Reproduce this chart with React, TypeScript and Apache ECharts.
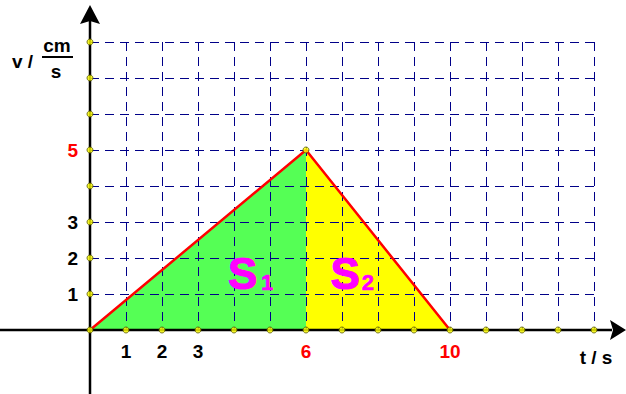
import React, { useEffect, useRef } from "react";
import * as echarts from "echarts";

// Data
const peakPoints: [number, number][] = [[0, 0], [6, 5], [10, 0]];
const riseSegment: [number, number][] = [[0, 0], [6, 5]];
const fallSegment: [number, number][] = [[6, 5], [10, 0]];
const xTickValues = [0, 1, 2, 3, 4, 5, 6, 7, 8, 9, 10, 11, 12, 13, 14];
const yTickValues = [1, 2, 3, 4, 5, 6, 7, 8];
const xTickLabels: Record<number, string> = { 1: "1", 2: "2", 3: "3", 6: "6", 10: "10" };
const yTickLabels: Record<number, string> = { 1: "1", 2: "2", 3: "3", 5: "5" };
const redXTicks = [6, 10];
const redYTicks = [5];
const areaNames = ["S", "S"];
const areaSubs = ["1", "2"];
// label anchor positions in data coordinates
const areaLabelX = [3.83, 6.68];
const areaSubX = [4.75, 7.55];

const FONT = "Liberation Sans";

export default function App() {
  const ref = useRef<HTMLDivElement>(null);
  useEffect(() => {
    if (!ref.current) return;
    const chart = echarts.init(ref.current, null, { renderer: "svg" });
    const dots: [number, number][] = [
      ...xTickValues.map((x) => [x, 0] as [number, number]),
      ...yTickValues.map((y) => [0, y] as [number, number]),
      peakPoints[1],
    ];
    const gridLine = {
      show: true,
      lineStyle: { color: "#000088", width: 1, type: [9, 6] as any },
    };
    chart.setOption({
      animation: false,
      backgroundColor: "#ffffff",
      grid: { left: 90, right: 32, top: 42, bottom: 64, containLabel: false },
      xAxis: {
        type: "value",
        min: 0,
        max: 14,
        interval: 1,
        z: 3,
        axisLine: { show: false },
        axisTick: { show: false },
        splitLine: gridLine,
        axisLabel: {
          margin: 12,
          fontFamily: FONT,
          fontWeight: "bold",
          fontSize: 19,
          formatter: (v: number) => xTickLabels[v] ?? "",
          color: (v: any) => (redXTicks.includes(Number(v)) ? "#ff0000" : "#000000"),
        },
      },
      yAxis: {
        type: "value",
        min: 0,
        max: 8,
        interval: 1,
        z: 3,
        axisLine: { show: false },
        axisTick: { show: false },
        splitLine: gridLine,
        axisLabel: {
          margin: 12,
          fontFamily: FONT,
          fontWeight: "bold",
          fontSize: 19,
          formatter: (v: number) => yTickLabels[v] ?? "",
          color: (v: any) => (redYTicks.includes(Number(v)) ? "#ff0000" : "#000000"),
        },
      },
      series: [
        {
          type: "line",
          data: riseSegment,
          z: 1,
          showSymbol: false,
          lineStyle: { width: 0 },
          areaStyle: { color: "#55ff55", opacity: 1 },
        },
        {
          type: "line",
          data: fallSegment,
          z: 1,
          showSymbol: false,
          lineStyle: { width: 0 },
          areaStyle: { color: "#ffff00", opacity: 1 },
        },
        {
          type: "line",
          data: peakPoints,
          z: 6,
          showSymbol: false,
          lineStyle: { color: "#ff0000", width: 2.5 },
        },
        {
          type: "scatter",
          data: dots,
          z: 10,
          symbolSize: 6,
          itemStyle: { color: "#ffff00", borderColor: "#555500", borderWidth: 1 },
        },
      ],
    });
    const O = chart.convertToPixel({ gridIndex: 0 }, [0, 0]) as number[];
    const ox = O[0];
    const oy = O[1];
    const px = (x: number) => (chart.convertToPixel({ gridIndex: 0 }, [x, 0]) as number[])[0];
    const txt = (
      x: number,
      y: number,
      text: string,
      size: number,
      color: string,
      align = "left",
      strokeW = 0
    ) => ({
      type: "text",
      x,
      y,
      z: 20,
      style: {
        text,
        fill: color,
        stroke: strokeW ? color : undefined,
        lineWidth: strokeW,
        fontFamily: FONT,
        fontWeight: "bold",
        fontSize: size,
        align,
        verticalAlign: "middle",
      },
    });
    chart.setOption({
      graphic: [
        { type: "line", z: 8, shape: { x1: 0, y1: oy, x2: 612, y2: oy }, style: { stroke: "#000", lineWidth: 2.5 } },
        { type: "polygon", z: 8, shape: { points: [[626, oy], [610, oy - 10], [613, oy], [610, oy + 10]] }, style: { fill: "#000" } },
        { type: "line", z: 8, shape: { x1: ox, y1: 394, x2: ox, y2: 20 }, style: { stroke: "#000", lineWidth: 2.5 } },
        { type: "polygon", z: 8, shape: { points: [[ox, 5], [ox + 10, 24], [ox, 21], [ox - 10, 24]] }, style: { fill: "#000" } },
        txt(12, 61, "v /", 19, "#000"),
        txt(57, 45, "cm", 19, "#000", "center"),
        { type: "line", z: 8, shape: { x1: 42, y1: 57, x2: 73, y2: 57 }, style: { stroke: "#000", lineWidth: 2 } },
        txt(56, 71, "s", 19, "#000", "center"),
        txt(596, 357, "t / s", 19, "#000", "center"),
        txt(px(areaLabelX[0]), 273, areaNames[0], 44, "#ff00ff", "left", 1.2),
        txt(px(areaSubX[0]), 282, areaSubs[0], 22, "#ff00ff", "left", 0.6),
        txt(px(areaLabelX[1]), 273, areaNames[1], 44, "#ff00ff", "left", 1.2),
        txt(px(areaSubX[1]), 282, areaSubs[1], 22, "#ff00ff", "left", 0.6),
      ],
    });
    return () => chart.dispose();
  }, []);
  return (
    <div
      ref={ref}
      style={{ position: "absolute", left: 0, top: 0, width: 626, height: 394, background: "#fff" }}
    />
  );
}
